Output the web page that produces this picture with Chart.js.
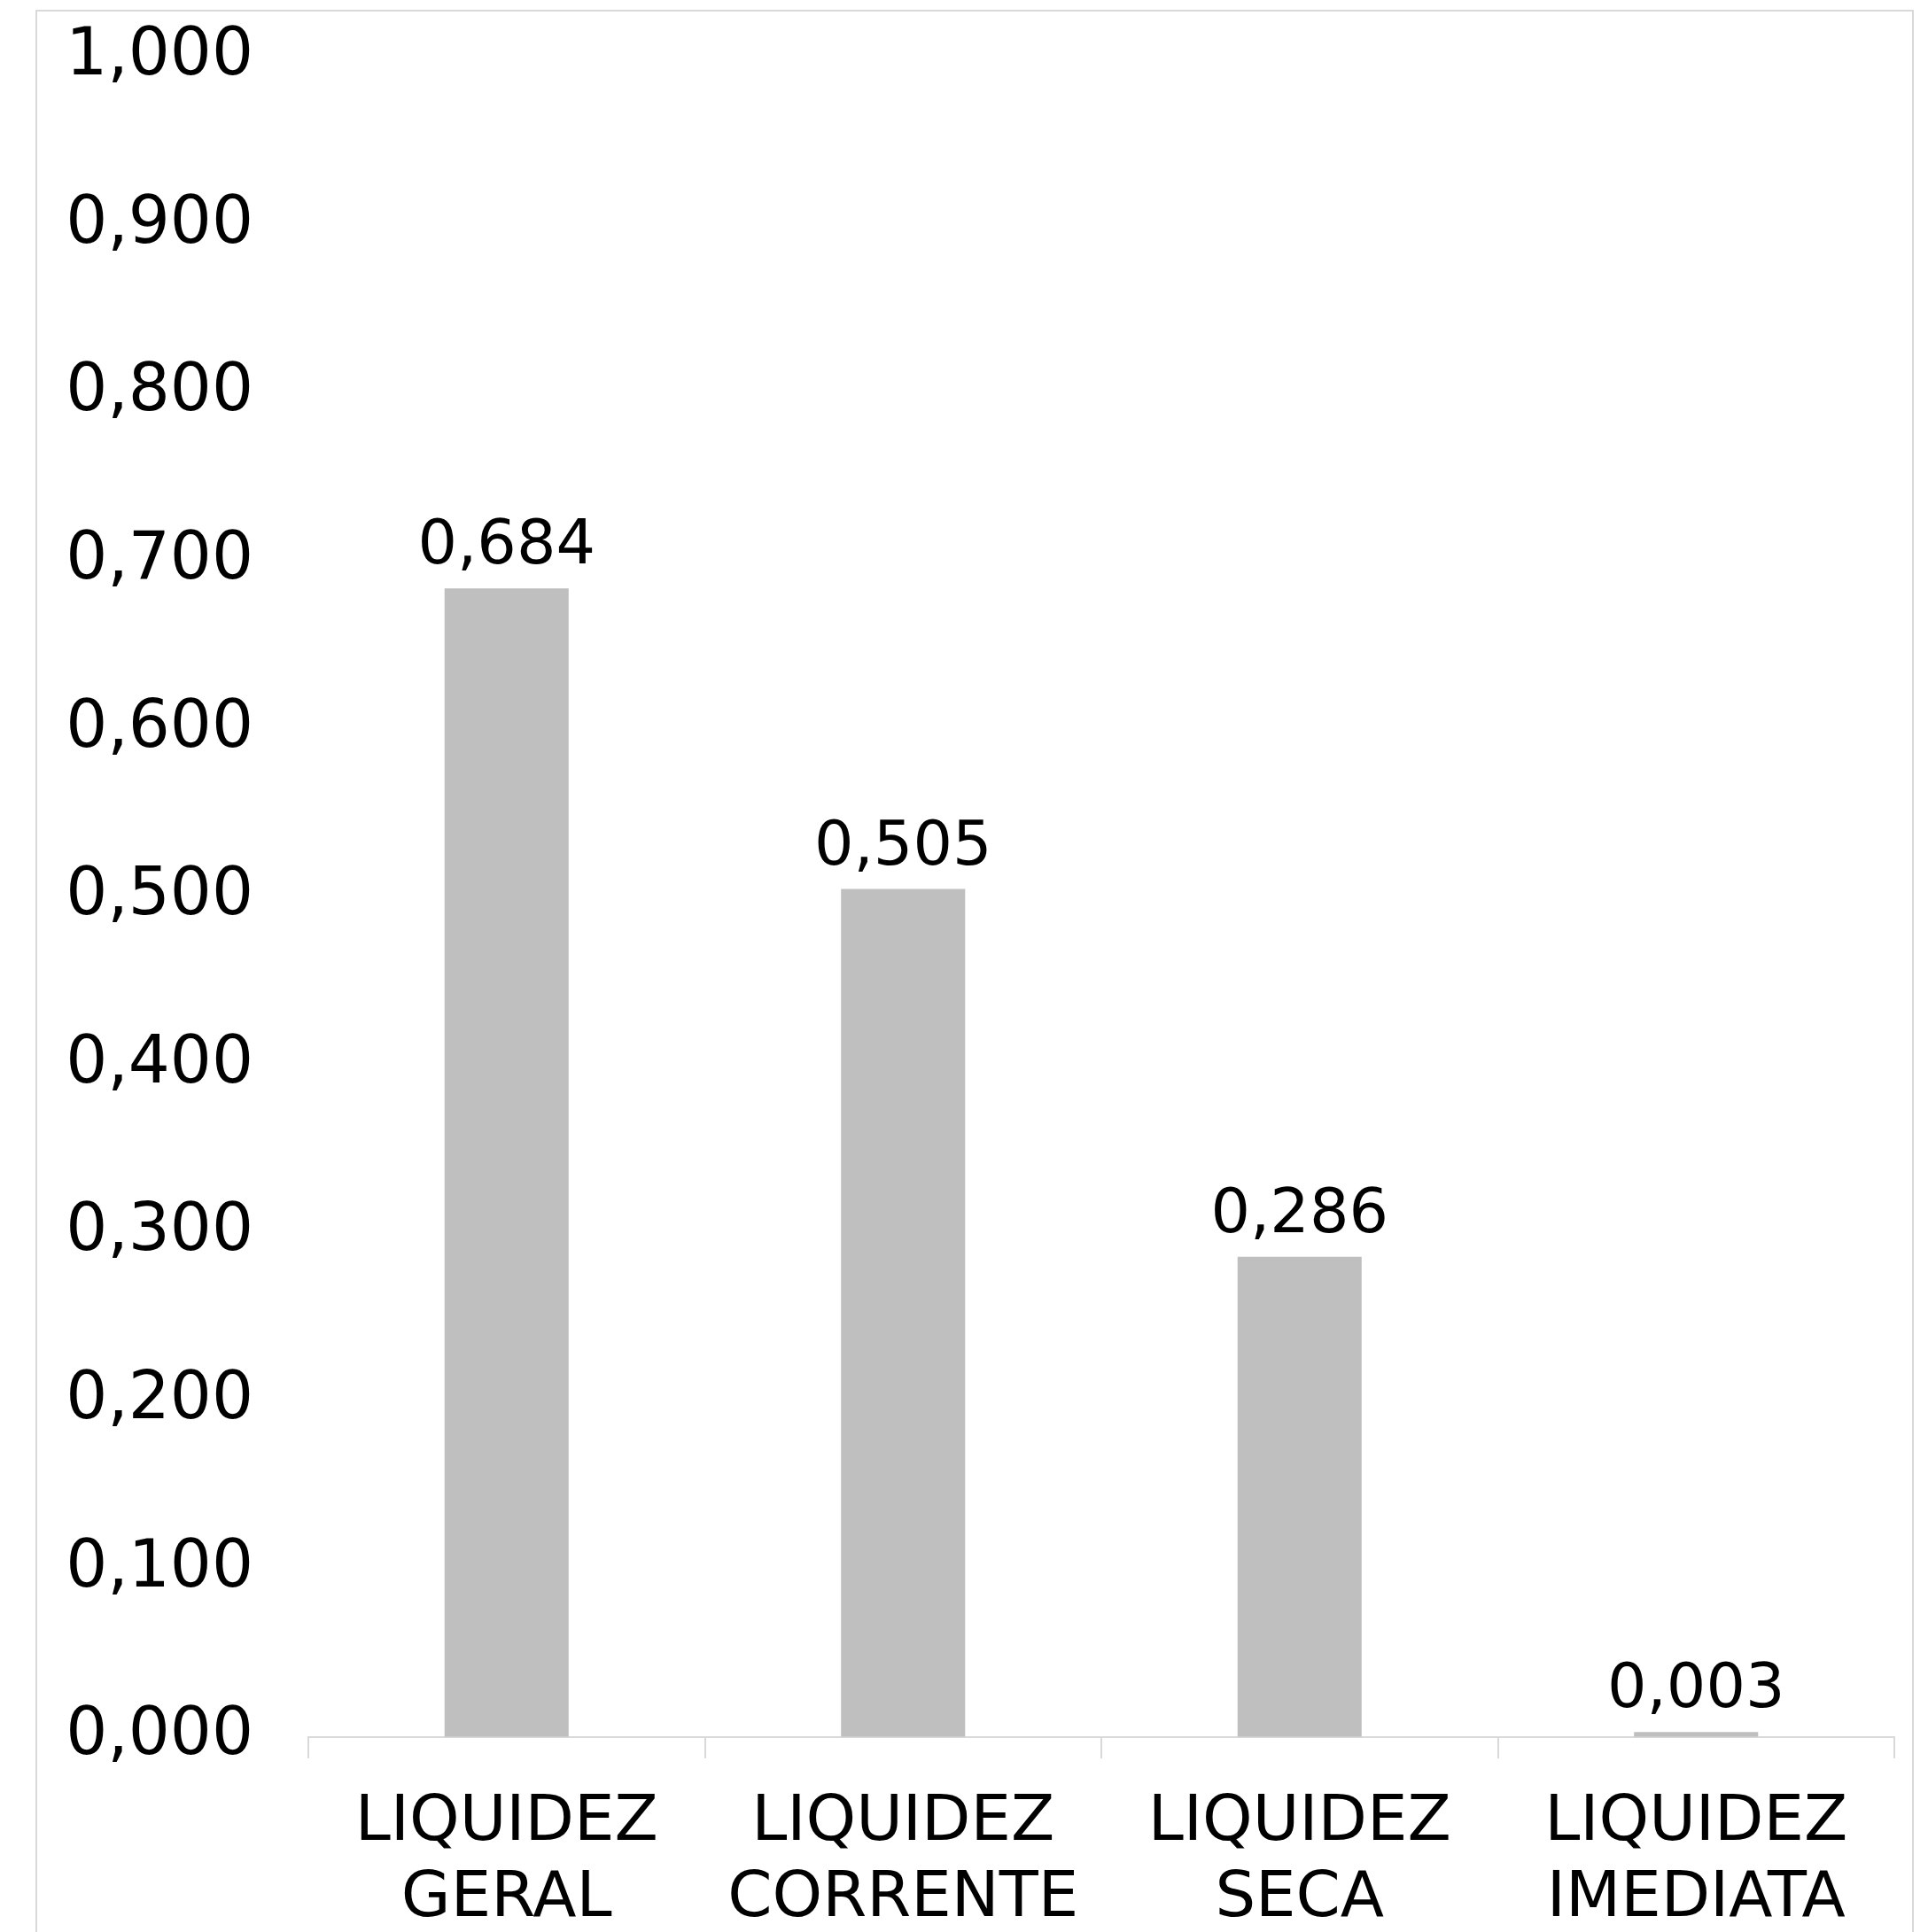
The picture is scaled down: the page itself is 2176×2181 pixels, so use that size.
<!DOCTYPE html>
<html>
<head>
<meta charset="utf-8">
<title>Liquidez</title>
<script src="https://cdn.jsdelivr.net/npm/chart.js@4.4.1/dist/chart.umd.min.js"></script>
<style>
  body { margin: 0; background: #ffffff; }
  #wrap { width: 2176px; height: 2181px; }
</style>
</head>
<body>
<div id="wrap"><canvas id="bars" width="2176" height="2181"></canvas></div>
<script>
// dati del grafico
var categorie = [['LIQUIDEZ', 'GERAL'], ['LIQUIDEZ', 'CORRENTE'], ['LIQUIDEZ', 'SECA'], ['LIQUIDEZ', 'IMEDIATA']];
var valori = [0.684, 0.505, 0.286, 0.003];
var asseMin = 0;
var asseMax = 1;
var passo = 0.1;

function formatta(v) {
  return v.toFixed(3).replace('.', ',');
}

// cornice grigia attorno al grafico
var cornice = {
  id: 'cornice',
  beforeDraw: function(chart) {
    var ctx = chart.ctx;
    ctx.save();
    ctx.strokeStyle = '#d9d9d9';
    ctx.lineWidth = 2;
    ctx.strokeRect(41, 12, 2118, 2200);
    ctx.restore();
  }
};

// etichette dei valori sopra le barre
var etichette = {
  id: 'etichette',
  afterDatasetsDraw: function(chart) {
    var ctx = chart.ctx;
    var meta = chart.getDatasetMeta(0);
    ctx.save();
    ctx.font = '70px "DejaVu Sans"';
    ctx.fillStyle = '#000000';
    ctx.textAlign = 'center';
    ctx.textBaseline = 'alphabetic';
    for (var i = 0; i < meta.data.length; i++) {
      var barra = meta.data[i];
      ctx.fillText(formatta(valori[i]), barra.x, barra.y - 28);
    }
    ctx.restore();
  }
};

Chart.defaults.font.family = '"DejaVu Sans", sans-serif';
Chart.defaults.color = '#000000';

var grafico = new Chart(document.getElementById('bars'), {
  type: 'bar',
  data: {
    labels: categorie,
    datasets: [{
      data: valori,
      backgroundColor: '#bfbfbf',
      borderWidth: 0,
      barPercentage: 0.313,
      categoryPercentage: 1
    }]
  },
  options: {
    responsive: false,
    animation: false,
    events: [],
    layout: { padding: { left: 0, right: 38, top: 65, bottom: 0 } },
    plugins: {
      legend: { display: false },
      tooltip: { enabled: false }
    },
    scales: {
      x: {
        afterFit: function(scale) { scale.height = 220; },
        grid: {
          display: true,
          drawOnChartArea: false,
          drawTicks: true,
          tickLength: 24,
          offset: true,
          color: '#d9d9d9',
          lineWidth: 2
        },
        border: { display: true, color: '#d9d9d9', width: 2 },
        ticks: {
          font: { size: 72, lineHeight: 1.2 },
          padding: 30,
          maxRotation: 0,
          autoSkip: false
        }
      },
      y: {
        min: asseMin,
        max: asseMax,
        afterFit: function(scale) { scale.width = 348; },
        // tacche invisibili: servono solo a distanziare le etichette
        grid: {
          display: true,
          drawOnChartArea: false,
          drawTicks: true,
          tickLength: 62,
          color: 'rgba(0,0,0,0)'
        },
        border: { display: false },
        ticks: {
          stepSize: passo,
          padding: 0,
          font: { size: 74 },
          callback: function(value) { return formatta(value); }
        }
      }
    }
  },
  plugins: [cornice, etichette]
});
</script>
</body>
</html>
